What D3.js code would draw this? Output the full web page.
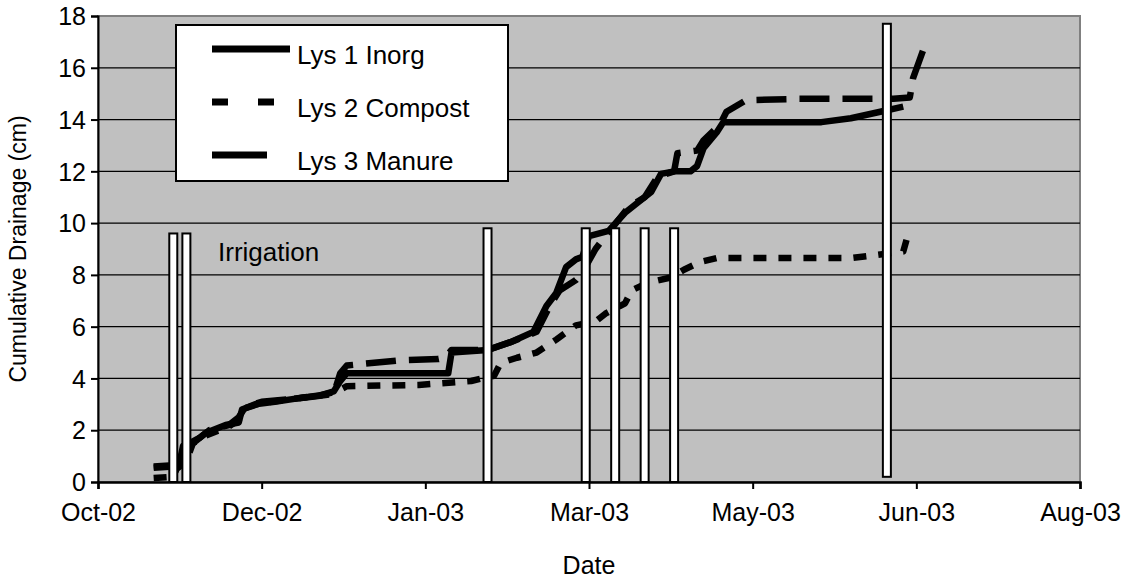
<!DOCTYPE html>
<html>
<head>
<meta charset="utf-8">
<script src="https://cdn.jsdelivr.net/npm/d3@7/dist/d3.min.js"></script>
<style>
  body { margin: 0; background: #fff; }
  text { font-family: Arial, "Liberation Sans", sans-serif; fill: #000; }
</style>
</head>
<body>
<div id="chart"></div>
<script>
// axis ticks (date axis, 50 day major unit)
var xTicks = ["2002-10-18", "2002-12-07", "2003-01-26", "2003-03-17", "2003-05-06", "2003-06-25", "2003-08-14"];
var yTicks = [0, 2, 4, 6, 8, 10, 12, 14, 16, 18];
var seriesNames = ["Lys 1 Inorg", "Lys 2 Compost", "Lys 3 Manure"];

// cumulative drainage (cm)
var lys1 = [["2002-11-04",0.6],["2002-11-10",0.65],["2002-11-12",0.8],["2002-11-13",1.4],["2002-11-15",1.4],
  ["2002-11-17",1.6],["2002-11-20",1.9],["2002-11-26",2.2],["2002-11-30",2.3],["2002-12-01",2.8],["2002-12-05",3.0],
  ["2002-12-11",3.1],["2002-12-19",3.25],["2002-12-25",3.35],["2002-12-29",3.5],["2002-12-31",3.9],["2003-01-02",4.2],
  ["2003-02-02",4.2],["2003-02-03",5.0],["2003-02-14",5.1],["2003-02-21",5.4],["2003-02-28",5.8],["2003-03-04",6.8],
  ["2003-03-07",7.3],["2003-03-10",8.3],["2003-03-13",8.6],["2003-03-15",8.7],["2003-03-17",9.5],["2003-03-23",9.7],
  ["2003-03-28",10.4],["2003-04-02",10.9],["2003-04-05",11.2],["2003-04-08",11.9],["2003-04-12",12.0],["2003-04-17",12.0],
  ["2003-04-19",12.2],["2003-04-21",12.9],["2003-04-25",13.5],["2003-04-27",13.9],["2003-05-27",13.9],["2003-06-05",14.05],
  ["2003-06-14",14.3],["2003-06-21",14.5]];

var lys2 = [["2002-11-04",0.15],["2002-11-10",0.2],["2002-11-11",0.5],["2002-11-14",0.8],["2002-11-16",1.5],
  ["2002-11-20",1.8],["2002-11-27",2.15],["2002-11-30",2.4],["2002-12-02",2.85],["2002-12-07",3.05],["2002-12-16",3.2],
  ["2002-12-25",3.35],["2002-12-30",3.5],["2003-01-02",3.7],["2003-01-24",3.75],["2003-02-09",3.9],["2003-02-14",4.05],
  ["2003-02-16",4.1],["2003-02-18",4.6],["2003-02-23",4.8],["2003-03-01",5.0],["2003-03-07",5.5],["2003-03-13",6.05],
  ["2003-03-19",6.2],["2003-03-22",6.5],["2003-03-28",6.9],["2003-03-30",7.4],["2003-04-04",7.7],["2003-04-11",7.9],
  ["2003-04-15",8.2],["2003-04-20",8.5],["2003-04-25",8.65],["2003-06-05",8.65],["2003-06-13",8.77],["2003-06-21",8.9],
  ["2003-06-22",9.35]];

var lys3 = [["2002-11-04",0.55],["2002-11-10",0.6],["2002-11-13",1.0],["2002-11-15",1.5],["2002-11-18",1.7],
  ["2002-11-21",2.0],["2002-11-27",2.2],["2002-11-30",2.5],["2002-12-02",2.9],["2002-12-07",3.1],["2002-12-16",3.2],
  ["2002-12-23",3.3],["2002-12-29",3.4],["2002-12-31",4.2],["2003-01-02",4.5],["2003-01-18",4.7],["2003-01-30",4.75],
  ["2003-02-01",4.8],["2003-02-03",5.1],["2003-02-14",5.1],["2003-02-21",5.4],["2003-03-01",5.8],["2003-03-05",6.8],
  ["2003-03-08",7.4],["2003-03-13",7.8],["2003-03-15",8.1],["2003-03-19",9.0],["2003-03-22",9.5],["2003-03-24",9.8],
  ["2003-03-29",10.6],["2003-04-03",11.0],["2003-04-07",11.8],["2003-04-12",12.0],["2003-04-13",12.7],["2003-04-19",12.8],
  ["2003-04-21",13.2],["2003-04-26",13.8],["2003-04-28",14.3],["2003-05-04",14.75],["2003-05-20",14.8],["2003-06-18",14.8],
  ["2003-06-23",14.85],["2003-06-24",15.6],["2003-06-26",16.3],["2003-06-28",17.0]];

// irrigation events
var irrDates = ["2002-11-10", "2002-11-14", "2003-02-14", "2003-03-16", "2003-03-25", "2003-04-03", "2003-04-12", "2003-06-16"];
var irrTop = [9.6, 9.6, 9.8, 9.8, 9.8, 9.8, 9.8, 17.7];
var irrBase = [0, 0, 0, 0, 0, 0, 0, 0.2];

var parse = d3.timeParse("%Y-%m-%d");

var margin = {top: 16, right: 50, bottom: 100, left: 98},
    width = 1130 - margin.left - margin.right,
    height = 582 - margin.top - margin.bottom;

var svg = d3.select("#chart")
  .append("svg")
    .attr("width", 1130)
    .attr("height", 582)
  .append("g")
    .attr("transform", "translate(" + margin.left + "," + margin.top + ")");

var x = d3.scaleTime()
  .domain([parse(xTicks[0]), parse(xTicks[xTicks.length - 1])])
  .range([0, width]);
var y = d3.scaleLinear()
  .domain([0, 18])
  .range([height, 0]);

// plot area
svg.append("rect")
  .attr("width", width).attr("height", height)
  .attr("fill", "#c0c0c0")
  .attr("stroke", "#808080").attr("stroke-width", 2);

// gridlines
svg.selectAll(".grid")
  .data(yTicks.filter(function(d) { return d > 0 && d < 18; }))
  .enter().append("line")
    .attr("x1", 0).attr("x2", width)
    .attr("y1", function(d) { return y(d); })
    .attr("y2", function(d) { return y(d); })
    .attr("stroke", "#000").attr("stroke-width", 1.2);

// lines
var line = d3.line()
  .x(function(d) { return x(parse(d[0])); })
  .y(function(d) { return y(d[1]); });

var dashes = ["none", "13,12", "30,13"];
var legendDashes = ["none", "16,30", "55,30"];
[lys1, lys2, lys3].forEach(function(s, i) {
  svg.append("path")
    .datum(s)
    .attr("d", line)
    .attr("fill", "none")
    .attr("stroke", "#000")
    .attr("stroke-width", 6.5)
    .attr("stroke-linejoin", "round")
    .attr("stroke-dasharray", dashes[i]);
});

// irrigation bars
svg.selectAll(".irr")
  .data(irrDates)
  .enter().append("rect")
    .attr("x", function(d) { return x(parse(d)) - 4; })
    .attr("width", 8)
    .attr("y", function(d, i) { return y(irrTop[i]); })
    .attr("height", function(d, i) { return y(irrBase[i]) - y(irrTop[i]); })
    .attr("fill", "#fff")
    .attr("stroke", "#000").attr("stroke-width", 2);

svg.append("text")
  .attr("x", 120).attr("y", 245)
  .style("font-size", "26px")
  .text("Irrigation");

// Y axis
var yAxis = svg.append("g")
  .call(d3.axisLeft(y).tickValues(yTicks).tickSize(7).tickPadding(5));
yAxis.select(".domain").attr("stroke-width", 2);
yAxis.selectAll("line").attr("stroke-width", 2);
yAxis.selectAll("text").style("font-size", "25px").attr("dy", "0.35em");

// X axis
var xAxis = svg.append("g")
  .attr("transform", "translate(0," + height + ")")
  .call(d3.axisBottom(x)
    .tickValues(xTicks.map(parse))
    .tickFormat(d3.timeFormat("%b-%y"))
    .tickSize(7).tickPadding(14));
xAxis.select(".domain").attr("stroke-width", 2.5);
xAxis.selectAll("line").attr("stroke-width", 2);
xAxis.selectAll("text").style("font-size", "25px");

// axis titles
svg.append("text")
  .attr("x", width / 2).attr("y", height + 92)
  .attr("text-anchor", "middle")
  .style("font-size", "25px")
  .text("Date");
svg.append("text")
  .attr("transform", "translate(-72," + (height / 2) + ")rotate(-90)")
  .attr("text-anchor", "middle")
  .style("font-size", "23px")
  .text("Cumulative Drainage (cm)");

// legend
var lg = svg.append("g").attr("transform", "translate(78,9)");
lg.append("rect")
  .attr("width", 332).attr("height", 156)
  .attr("fill", "#fff").attr("stroke", "#000").attr("stroke-width", 2);
seriesNames.forEach(function(name, i) {
  var yy = 24 + i * 53;
  lg.append("line")
    .attr("x1", 36).attr("x2", 114)
    .attr("y1", yy).attr("y2", yy)
    .attr("stroke", "#000").attr("stroke-width", 7)
    .attr("stroke-dasharray", legendDashes[i]);
  lg.append("text")
    .attr("x", 121).attr("y", yy + 15)
    .style("font-size", "26px")
    .text(name);
});
</script>
</body>
</html>
